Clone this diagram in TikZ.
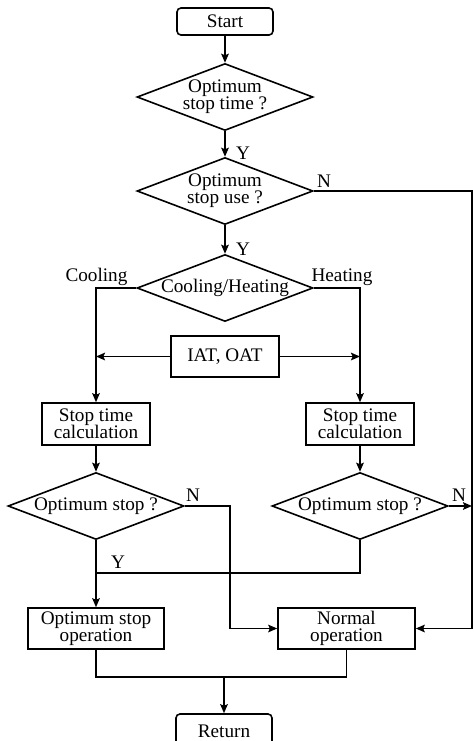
\documentclass[tikz,border=0pt]{standalone}
\usepackage{fontspec}
\setmainfont{Liberation Serif}
\usetikzlibrary{arrows.meta,shapes.geometric}

\begin{document}
\begin{tikzpicture}[->,>={Stealth[length=4.5pt,width=3.8pt,inset=0.8pt]}
  ,x=0.5pt,y=-0.5pt
  ,line width=0.8pt]
  \tikzstyle{every node}=[align=center,
  font={\fontsize{9.6}{8.6}\selectfont\lineskiplimit=0pt\lineskip=0pt}]
  \tikzstyle{term}=[draw,rounded corners=2pt,minimum width=48pt,
  minimum height=13.5pt,inner sep=0pt]
  \tikzstyle{proc}=[draw,minimum width=54pt,minimum height=21pt,inner sep=0pt]
  \tikzstyle{test}=[draw,diamond,aspect=2.6,minimum width=88pt,
  minimum height=33.5pt,inner sep=0pt]
  \tikzstyle{lbl}=[inner sep=0pt]

  \useasboundingbox (0,0) rectangle (474,741);

  % main column
  \node[term] (start) at (225,21.5) {Start};
  \node[test] (q1) at (225,97) {Optimum\\stop time ?};
  \node[test] (q2) at (225,191) {Optimum\\stop use ?};
  \node[test] (q3) at (225,288) {Cooling/Heating};
  \node[proc,minimum height=20.5pt] (iat) at (225,356.5) {IAT, OAT};
  % cooling / heating branches
  \node[proc] (calcc) at (96,424) {Stop time\\calculation};
  \node[proc] (calch) at (360,424) {Stop time\\calculation};
  \node[test] (q4) at (96,506) {Optimum stop ?};
  \node[test] (q5) at (360,506) {Optimum stop ?};
  % operations
  \node[proc,minimum width=68pt,minimum height=20.5pt] (opt) at (96,628.5)
  {Optimum stop\\operation};
  \node[proc,minimum width=68.5pt,minimum height=20.5pt] (norm) at (346.5,628.5)
  {Normal\\operation};
  \node[term,minimum height=17pt] (ret) at (224,731) {Return};

  % bends
  \coordinate (rtop) at (472,191);
  \coordinate (redge) at (472,506);
  \coordinate (nbend) at (230,506);
  \coordinate (jy) at (96,573);
  \coordinate (jb) at (224,677);

  \draw (start) -- (q1);
  \draw (q1) -- (q2);
  \draw (q2) -- (q3);
  \draw (q3.west) -| (calcc.north);
  \draw (q3.east) -| (calch.north);
  \draw (iat.west) -- (iat.west -| calcc);
  \draw (iat.east) -- (iat.east -| calch);
  \draw (calcc) -- (q4);
  \draw (calch) -- (q5);
  \draw[-] (q4.south) -- (jy);
  \draw[-] (q5.south) |- (jy);
  \draw (jy) -- (opt.north);
  \draw (q4.east) -- (nbend) |- (norm.west);
  \draw (q5.east) -- (redge);
  \draw (q2.east) -- (rtop) |- (norm.east);
  \draw[-] (opt.south) |- (jb) -| (norm.south);
  \draw (jb) -- (ret);

  % labels
  \node[lbl] (y1) at (243,153) {Y};
  \node[lbl] (y2) at (243,249) {Y};
  \node[lbl] (n2) at (324,181) {N};
  \node[lbl] (cool) at (96.5,277) {Cooling};
  \node[lbl] (heat) at (342,277) {Heating};
  \node[lbl] (n4) at (193,495) {N};
  \node[lbl] (n5) at (459,495) {N};
  \node[lbl] (y4) at (118,562) {Y};

\end{tikzpicture}
\end{document}
